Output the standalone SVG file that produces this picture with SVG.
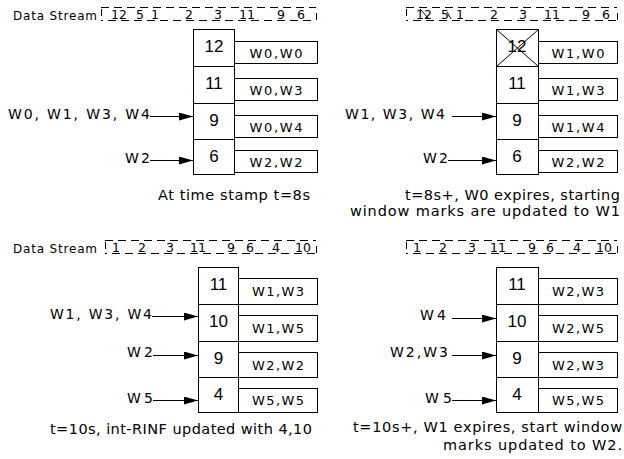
<svg xmlns="http://www.w3.org/2000/svg" width="624" height="459" viewBox="0 0 624 459">
<style>
text{font-family:"DejaVu Sans","Liberation Sans",Arial,sans-serif;fill:#000}
.lbl{font-size:14px}
.ds{font-size:12px}
.num{font-size:12.5px;text-anchor:middle}
.dig{font-size:17px;text-anchor:middle;font-family:"Liberation Sans",Arial,sans-serif}
.box{font-size:13px;text-anchor:middle}
.cap{font-size:14.5px}
.cell{fill:#fff;stroke:#000;stroke-width:1}
.stream{fill:none;stroke:#000;stroke-width:1;stroke-dasharray:8 5}
.edge{stroke:#000;stroke-width:1}
.conn{stroke:#000;stroke-width:1;fill:none}
</style>
<defs>
<marker id="ah" markerUnits="userSpaceOnUse" markerWidth="15" markerHeight="9" refX="14" refY="4" orient="auto">
<path d="M0,0 L14,4 L0,8 Z" fill="#000"/>
</marker>
</defs>

<!-- Top-left panel -->
<g id="tl-stream">
<text class="ds" x="13" y="19.5" textLength="84" lengthAdjust="spacing">Data Stream</text>
<line class="stream" x1="101" y1="7.5" x2="316" y2="7.5"/>
<line class="stream" x1="101" y1="20.5" x2="316" y2="20.5" stroke-dashoffset="6"/>
<line class="edge" x1="101.5" y1="9" x2="101.5" y2="16"/>
<line class="edge" x1="316.5" y1="13" x2="316.5" y2="20"/>
<text class="num" x="119" y="18.5">12</text>
<text class="num" x="140" y="18.5">5</text>
<text class="num" x="155" y="18.5">1</text>
<text class="num" x="189" y="18.5">2</text>
<text class="num" x="218" y="18.5">3</text>
<text class="num" x="247" y="18.5">11</text>
<text class="num" x="281" y="18.5">9</text>
<text class="num" x="301" y="18.5">6</text>
</g>
<g id="tl-c12"><rect class="cell" x="193.5" y="29.5" width="41" height="37"/><text class="dig" x="214" y="52">12</text>
<rect class="cell" x="234.5" y="41.5" width="83" height="22"/><text class="box" x="276" y="58" textLength="53" lengthAdjust="spacing">W0,W0</text></g>
<g id="tl-c11"><rect class="cell" x="193.5" y="66.5" width="41" height="37"/><text class="dig" x="214" y="89">11</text>
<rect class="cell" x="234.5" y="78.5" width="83" height="22"/><text class="box" x="276" y="95" textLength="53" lengthAdjust="spacing">W0,W3</text></g>
<g id="tl-c9"><rect class="cell" x="193.5" y="103.5" width="41" height="36"/><text class="dig" x="214" y="126">9</text>
<rect class="cell" x="234.5" y="115.5" width="83" height="22"/><text class="box" x="276" y="132" textLength="53" lengthAdjust="spacing">W0,W4</text></g>
<g id="tl-c6"><rect class="cell" x="193.5" y="139.5" width="41" height="35"/><text class="dig" x="214" y="162">6</text>
<rect class="cell" x="234.5" y="150.5" width="83" height="22"/><text class="box" x="276" y="167" textLength="53" lengthAdjust="spacing">W2,W2</text></g>
<g id="tl-l1"><text class="lbl" x="8" y="118.5" textLength="142" lengthAdjust="spacing">W0, W1, W3, W4</text></g>
<g id="tl-l2"><text class="lbl" x="125" y="163" textLength="25" lengthAdjust="spacing">W2</text></g>
<g id="tl-cap"><text class="cap" x="158" y="200" textLength="152" lengthAdjust="spacing">At time stamp t=8s</text></g>

<!-- Top-right panel -->
<g id="tr-stream">
<line class="stream" x1="406" y1="7.5" x2="617" y2="7.5"/>
<line class="stream" x1="406" y1="20.5" x2="617" y2="20.5" stroke-dashoffset="6"/>
<line class="edge" x1="406.5" y1="9" x2="406.5" y2="16"/>
<line class="edge" x1="617.5" y1="13" x2="617.5" y2="20"/>
<text class="num" x="424" y="18.5">12</text>
<text class="num" x="445" y="18.5">5</text>
<text class="num" x="460" y="18.5">1</text>
<text class="num" x="494" y="18.5">2</text>
<text class="num" x="523" y="18.5">3</text>
<text class="num" x="552" y="18.5">11</text>
<text class="num" x="586" y="18.5">9</text>
<text class="num" x="606" y="18.5">6</text>
<line class="edge" x1="420" y1="9" x2="429" y2="19"/>
<line class="edge" x1="447" y1="12" x2="451" y2="19"/>
</g>
<g id="tr-c12"><rect class="cell" x="496.5" y="29.5" width="42" height="37"/><text class="dig" x="517" y="52">12</text>
<line class="edge" x1="496.5" y1="29.5" x2="538.5" y2="66.5"/><line class="edge" x1="538.5" y1="29.5" x2="496.5" y2="66.5"/>
<rect class="cell" x="538.5" y="41.5" width="79" height="22"/><text class="box" x="578" y="58" textLength="53" lengthAdjust="spacing">W1,W0</text></g>
<g id="tr-c11"><rect class="cell" x="496.5" y="66.5" width="42" height="37"/><text class="dig" x="517" y="89">11</text>
<rect class="cell" x="538.5" y="78.5" width="79" height="22"/><text class="box" x="578" y="95" textLength="53" lengthAdjust="spacing">W1,W3</text></g>
<g id="tr-c9"><rect class="cell" x="496.5" y="103.5" width="42" height="36"/><text class="dig" x="517" y="126">9</text>
<rect class="cell" x="538.5" y="115.5" width="79" height="22"/><text class="box" x="578" y="132" textLength="53" lengthAdjust="spacing">W1,W4</text></g>
<g id="tr-c6"><rect class="cell" x="496.5" y="139.5" width="42" height="35"/><text class="dig" x="517" y="162">6</text>
<rect class="cell" x="538.5" y="150.5" width="79" height="22"/><text class="box" x="578" y="167" textLength="53" lengthAdjust="spacing">W2,W2</text></g>
<g id="tr-l1"><text class="lbl" x="345" y="118.5" textLength="100" lengthAdjust="spacing">W1, W3, W4</text></g>
<g id="tr-l2"><text class="lbl" x="423" y="163" textLength="25" lengthAdjust="spacing">W2</text></g>
<g id="tr-cap"><text class="cap" x="405" y="200" textLength="215" lengthAdjust="spacing">t=8s+, W0 expires, starting</text>
<text class="cap" x="350" y="216" textLength="270" lengthAdjust="spacing">window marks are updated to W1</text></g>

<!-- Bottom-left panel -->
<g id="bl-stream">
<text class="ds" x="13" y="252.5" textLength="84" lengthAdjust="spacing">Data Stream</text>
<line class="stream" x1="105" y1="240.5" x2="316" y2="240.5"/>
<line class="stream" x1="105" y1="253.5" x2="316" y2="253.5" stroke-dashoffset="6"/>
<line class="edge" x1="105.5" y1="242" x2="105.5" y2="249"/>
<line class="edge" x1="316.5" y1="246" x2="316.5" y2="253"/>
<text class="num" x="116" y="251.5">1</text>
<text class="num" x="142" y="251.5">2</text>
<text class="num" x="170" y="251.5">3</text>
<text class="num" x="198" y="251.5">11</text>
<text class="num" x="231" y="251.5">9</text>
<text class="num" x="250" y="251.5">6</text>
<text class="num" x="276" y="251.5">4</text>
<text class="num" x="303" y="251.5">10</text>
</g>
<g id="bl-c11"><rect class="cell" x="198.5" y="267.5" width="40" height="37"/><text class="dig" x="218.5" y="290">11</text>
<rect class="cell" x="238.5" y="278.5" width="79" height="26"/><text class="box" x="278" y="296" textLength="52" lengthAdjust="spacing">W1,W3</text></g>
<g id="bl-c10"><rect class="cell" x="198.5" y="304.5" width="40" height="37"/><text class="dig" x="218.5" y="327">10</text>
<rect class="cell" x="238.5" y="315.5" width="79" height="26"/><text class="box" x="278" y="333" textLength="52" lengthAdjust="spacing">W1,W5</text></g>
<g id="bl-c9"><rect class="cell" x="198.5" y="341.5" width="40" height="36"/><text class="dig" x="218.5" y="364">9</text>
<rect class="cell" x="238.5" y="352.5" width="79" height="25"/><text class="box" x="278" y="370" textLength="52" lengthAdjust="spacing">W2,W2</text></g>
<g id="bl-c4"><rect class="cell" x="198.5" y="377.5" width="40" height="35"/><text class="dig" x="218.5" y="400">4</text>
<rect class="cell" x="238.5" y="388.5" width="79" height="24"/><text class="box" x="278" y="405" textLength="52" lengthAdjust="spacing">W5,W5</text></g>
<g id="bl-l1"><text class="lbl" x="50" y="318.5" textLength="102" lengthAdjust="spacing">W1, W3, W4</text></g>
<g id="bl-l2"><text class="lbl" x="127" y="357" textLength="26" lengthAdjust="spacing">W2</text></g>
<g id="bl-l3"><text class="lbl" x="127" y="403" textLength="26" lengthAdjust="spacing">W5</text></g>
<g id="bl-cap"><text class="cap" x="50" y="434" textLength="262" lengthAdjust="spacing">t=10s, int-RINF updated with 4,10</text></g>

<!-- Bottom-right panel -->
<g id="br-stream">
<line class="stream" x1="406" y1="240.5" x2="617" y2="240.5"/>
<line class="stream" x1="406" y1="253.5" x2="617" y2="253.5" stroke-dashoffset="6"/>
<line class="edge" x1="406.5" y1="242" x2="406.5" y2="249"/>
<line class="edge" x1="617.5" y1="246" x2="617.5" y2="253"/>
<text class="num" x="417" y="251.5">1</text>
<text class="num" x="443" y="251.5">2</text>
<text class="num" x="472" y="251.5">3</text>
<text class="num" x="498" y="251.5">11</text>
<text class="num" x="532" y="251.5">9</text>
<text class="num" x="550" y="251.5">6</text>
<text class="num" x="577" y="251.5">4</text>
<text class="num" x="604" y="251.5">10</text>
</g>
<g id="br-c11"><rect class="cell" x="496.5" y="267.5" width="42" height="37"/><text class="dig" x="517" y="290">11</text>
<rect class="cell" x="538.5" y="278.5" width="79" height="26"/><text class="box" x="578" y="296" textLength="52" lengthAdjust="spacing">W2,W3</text></g>
<g id="br-c10"><rect class="cell" x="496.5" y="304.5" width="42" height="37"/><text class="dig" x="517" y="327">10</text>
<rect class="cell" x="538.5" y="315.5" width="79" height="26"/><text class="box" x="578" y="333" textLength="52" lengthAdjust="spacing">W2,W5</text></g>
<g id="br-c9"><rect class="cell" x="496.5" y="341.5" width="42" height="36"/><text class="dig" x="517" y="364">9</text>
<rect class="cell" x="538.5" y="352.5" width="79" height="25"/><text class="box" x="578" y="370" textLength="52" lengthAdjust="spacing">W2,W3</text></g>
<g id="br-c4"><rect class="cell" x="496.5" y="377.5" width="42" height="35"/><text class="dig" x="517" y="400">4</text>
<rect class="cell" x="538.5" y="388.5" width="79" height="24"/><text class="box" x="578" y="405" textLength="52" lengthAdjust="spacing">W5,W5</text></g>
<g id="br-l1"><text class="lbl" x="420" y="320" textLength="26" lengthAdjust="spacing">W4</text></g>
<g id="br-l2"><text class="lbl" x="390" y="357" textLength="58" lengthAdjust="spacing">W2,W3</text></g>
<g id="br-l3"><text class="lbl" x="425" y="403" textLength="27" lengthAdjust="spacing">W5</text></g>
<g id="br-cap"><text class="cap" x="353" y="432" textLength="269" lengthAdjust="spacing">t=10s+, W1 expires, start window</text>
<text class="cap" x="443" y="450" textLength="179" lengthAdjust="spacing">marks updated to W2.</text></g>

<g id="connectors">
<line class="conn" x1="150" y1="116.5" x2="193" y2="116.5" marker-end="url(#ah)"/>
<line class="conn" x1="150" y1="160.5" x2="193" y2="160.5" marker-end="url(#ah)"/>
<line class="conn" x1="452" y1="116.5" x2="496" y2="116.5" marker-end="url(#ah)"/>
<line class="conn" x1="448" y1="160.5" x2="496" y2="160.5" marker-end="url(#ah)"/>
<line class="conn" x1="152" y1="316.5" x2="198" y2="316.5" marker-end="url(#ah)"/>
<line class="conn" x1="153" y1="355.5" x2="198" y2="355.5" marker-end="url(#ah)"/>
<line class="conn" x1="153" y1="400.5" x2="198" y2="400.5" marker-end="url(#ah)"/>
<line class="conn" x1="452" y1="318.5" x2="496" y2="318.5" marker-end="url(#ah)"/>
<line class="conn" x1="452" y1="355.5" x2="496" y2="355.5" marker-end="url(#ah)"/>
<line class="conn" x1="452" y1="400.5" x2="496" y2="400.5" marker-end="url(#ah)"/>
</g>
</svg>
